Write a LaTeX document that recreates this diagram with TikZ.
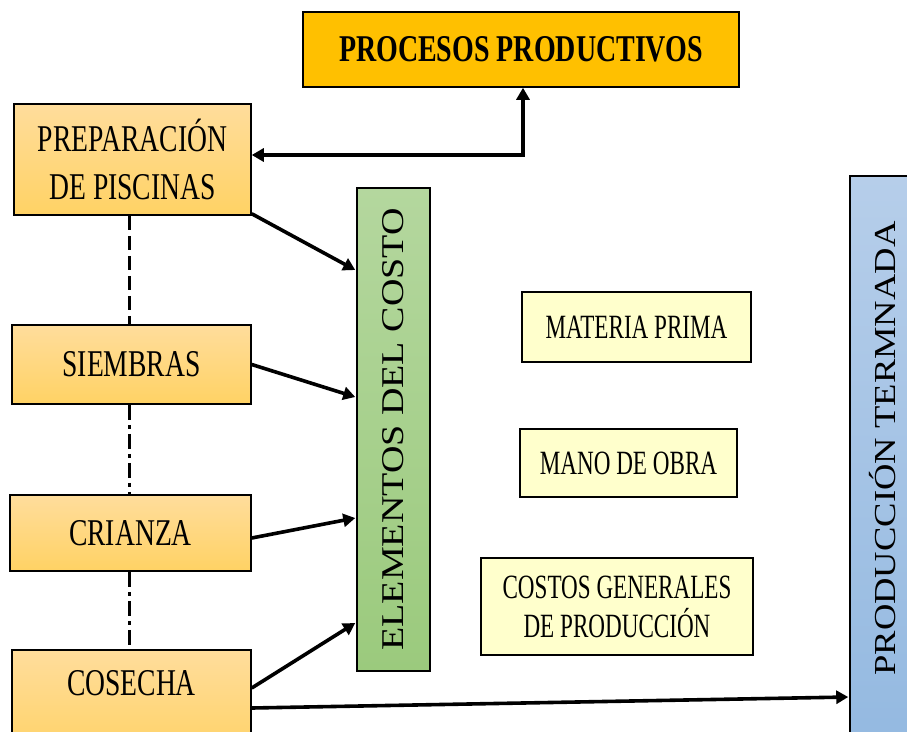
\documentclass[tikz,border=0pt]{standalone}
\usepackage{fontspec}
\setmainfont{Liberation Serif}
\newfontfamily\lfont[FakeStretch=0.73]{Liberation Serif}
\newfontfamily\rfont[FakeStretch=0.68]{Liberation Serif}
\newfontfamily\pfont[FakeStretch=0.74]{Liberation Serif}
\newfontfamily\vfont[FakeStretch=1.2]{Liberation Serif}
\usetikzlibrary{arrows.meta,calc}
\definecolor{procC}{HTML}{FFC000}
\definecolor{orTop}{RGB}{255,221,156}
\definecolor{orBot}{RGB}{255,210,100}
\definecolor{grTop}{RGB}{180,215,158}
\definecolor{grBot}{RGB}{155,202,125}
\definecolor{blTop}{RGB}{182,206,234}
\definecolor{blBot}{RGB}{146,184,224}
\definecolor{ylw}{RGB}{255,255,204}
\begin{document}
\begin{tikzpicture}[x=1pt,y=-1pt,
  box/.style={draw=black, line width=1.5pt, inner sep=0pt, align=center},
  orbox/.style={box, top color=orTop, bottom color=orBot},
  ylbox/.style={box, fill=ylw},
  lft/.style={font=\lfont\fontsize{37.8}{48}\selectfont},
  rgt/.style={font=\rfont\fontsize{34}{39}\selectfont},
  arr/.style={line width=3.6pt, -{Triangle[length=12pt,width=13pt]}},
  darr/.style={line width=3.6pt, {Triangle[length=12pt,width=13pt]}-{Triangle[length=12pt,width=13pt]}},
  dashln/.style={line width=3pt, dash pattern=on 14pt off 6pt},
  dashdot/.style={line width=3pt, dash pattern=on 15pt off 5pt on 4pt off 5pt}
]
\useasboundingbox (0,0) rectangle (907,731);
\clip (0,0) rectangle (907,731);
\fill[white] (0,0) rectangle (907,731);

% top box
\node[box, fill=procC, minimum width=436pt, minimum height=75pt,
      font=\pfont\bfseries\fontsize{37.8}{48}\selectfont] (proc) at (521,49.5) {PROCESOS PRODUCTIVOS};

% left column
\node[orbox, lft, minimum width=237pt, minimum height=111pt] (prep) at (132.5,159.5) {PREPARACIÓN\\DE PISCINAS};
\node[orbox, lft, minimum width=239pt, minimum height=79pt] (siem) at (131.5,364.5) {SIEMBRAS};
\node[orbox, lft, minimum width=241pt, minimum height=76pt] (cria) at (130.5,533) {CRIANZA};
\node[orbox, minimum width=239pt, minimum height=110pt] (cose) at (131.5,705) {};
\node[lft, inner sep=0pt] (coseT) at (131.5,683.5) {COSECHA};

% elements of cost
\node[box, top color=grTop, bottom color=grBot, minimum width=73pt, minimum height=483pt,
      font=\vfont\fontsize{31.7}{36}\selectfont] (elem) at (393.5,429.5) {\rotatebox{90}{ELEMENTOS DEL COSTO}};

% cost items
\node[ylbox, rgt, minimum width=229pt, minimum height=70pt] (mat) at (636.5,327) {MATERIA PRIMA};
\node[ylbox, rgt, minimum width=217pt, minimum height=68pt] (mano) at (628.5,463) {MANO DE OBRA};
\node[ylbox, rgt, minimum width=272pt, minimum height=97pt] (cost) at (617,606.5) {COSTOS GENERALES\\DE PRODUCCIÓN};

% finished production
\node[box, top color=blTop, bottom color=blBot, minimum width=80pt, minimum height=600pt] (prodT) at (890,476) {};
\node[inner sep=0pt, font=\vfont\fontsize{30.5}{36}\selectfont] (prodTxt) at (883,448.5) {\rotatebox{90}{PRODUCCIÓN TERMNADA}};

% dashed links
\draw[dashln] ([xshift=-3.5pt]prep.south) -- ([xshift=-2.5pt]siem.north);
\draw[dashdot] ([xshift=-2.5pt]siem.south) -- ([xshift=-1.5pt]cria.north);
\draw[dashdot] ([xshift=-1.5pt]cria.south) -- ([xshift=-2.5pt]cose.north);

% arrows
\draw[darr] ([yshift=4.5pt]prep.east) -| ([xshift=2pt]proc.south);
\draw[arr] ([yshift=2pt]prep.south east) -- ([yshift=159.5pt,xshift=-1pt]elem.west);
\draw[arr] (siem.east) -- ([yshift=32.5pt,xshift=-1pt]elem.west);
\draw[arr] ([yshift=-5pt]cria.east) -- ([yshift=-88.5pt,xshift=-1pt]elem.west);
\draw[arr] ([yshift=17pt]cose.east) -- ([yshift=-193.5pt,xshift=-1pt]elem.west);
\draw[arr] ([yshift=-3pt]cose.east) -- ([yshift=-221pt,xshift=-1pt]prodT.west);
\end{tikzpicture}
\end{document}
